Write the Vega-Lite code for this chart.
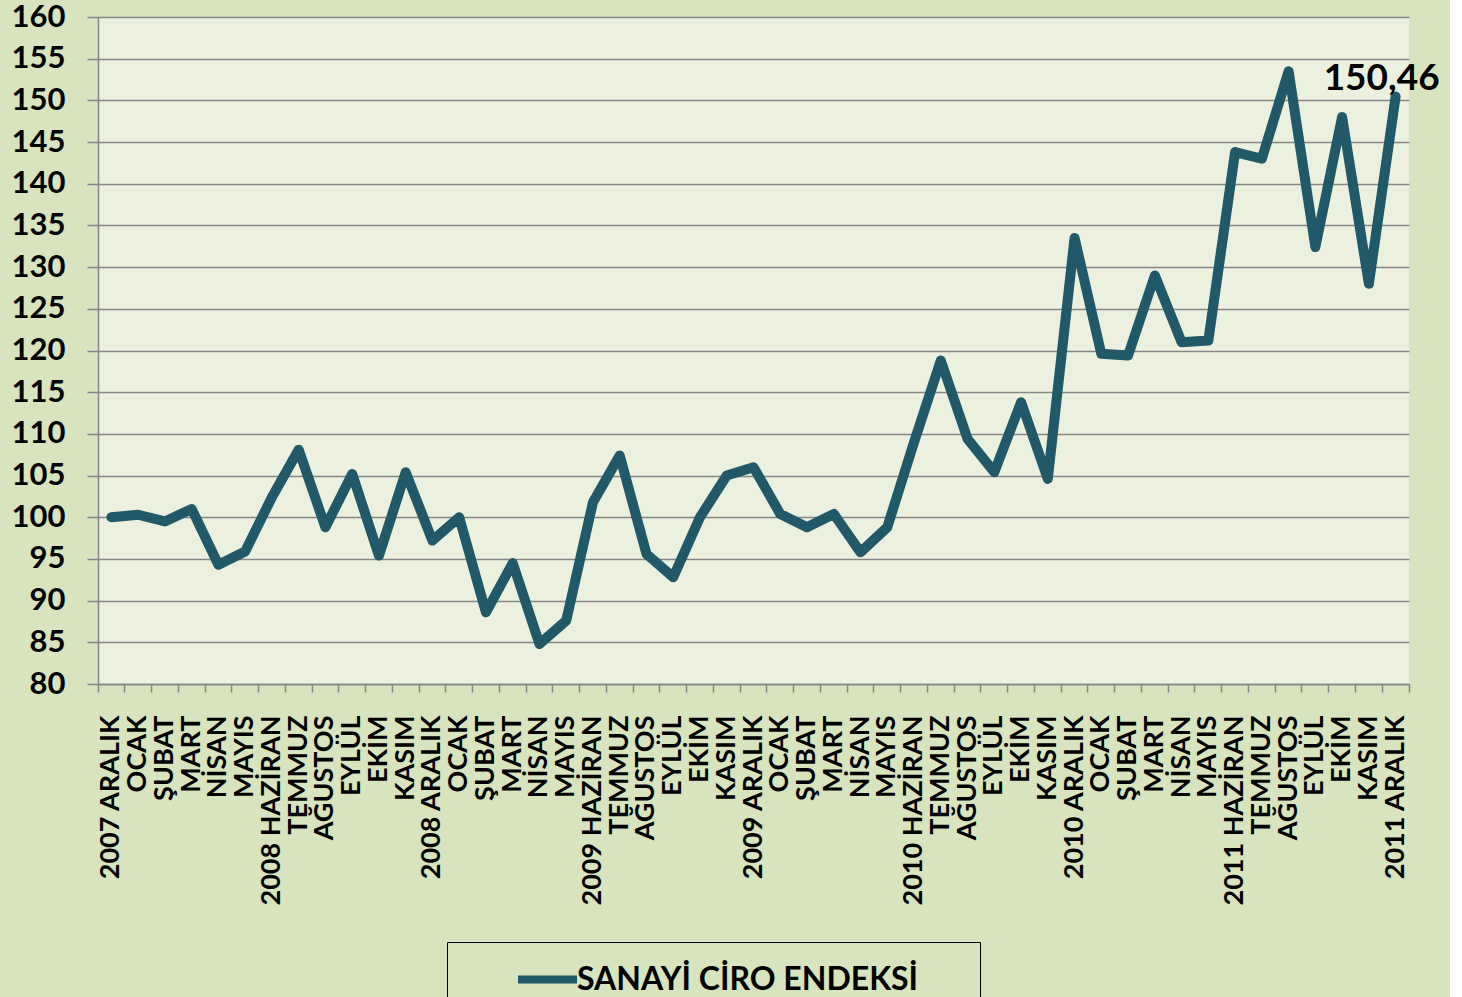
{
  "$schema": "https://vega.github.io/schema/vega-lite/v6.json",
  "autosize": {"type": "none"},
  "padding": {"left": 98, "top": 17, "right": 41, "bottom": 313},
  "width": 1311,
  "height": 667,
  "background": "#D7E4BD",
  "config": {
    "view": {"fill": "#EBF1DE", "stroke": null},
    "font": "Lato"
  },
  "data": {
    "values": [
      {"tarih": "2007-12-01", "endeks": 100.0, "seri": "SANAYİ CİRO ENDEKSİ"},
      {"tarih": "2008-01-01", "endeks": 100.3, "seri": "SANAYİ CİRO ENDEKSİ"},
      {"tarih": "2008-02-01", "endeks": 99.5, "seri": "SANAYİ CİRO ENDEKSİ"},
      {"tarih": "2008-03-01", "endeks": 101.0, "seri": "SANAYİ CİRO ENDEKSİ"},
      {"tarih": "2008-04-01", "endeks": 94.3, "seri": "SANAYİ CİRO ENDEKSİ"},
      {"tarih": "2008-05-01", "endeks": 95.9, "seri": "SANAYİ CİRO ENDEKSİ"},
      {"tarih": "2008-06-01", "endeks": 102.4, "seri": "SANAYİ CİRO ENDEKSİ"},
      {"tarih": "2008-07-01", "endeks": 108.1, "seri": "SANAYİ CİRO ENDEKSİ"},
      {"tarih": "2008-08-01", "endeks": 98.8, "seri": "SANAYİ CİRO ENDEKSİ"},
      {"tarih": "2008-09-01", "endeks": 105.2, "seri": "SANAYİ CİRO ENDEKSİ"},
      {"tarih": "2008-10-01", "endeks": 95.4, "seri": "SANAYİ CİRO ENDEKSİ"},
      {"tarih": "2008-11-01", "endeks": 105.4, "seri": "SANAYİ CİRO ENDEKSİ"},
      {"tarih": "2008-12-01", "endeks": 97.2, "seri": "SANAYİ CİRO ENDEKSİ"},
      {"tarih": "2009-01-01", "endeks": 100.0, "seri": "SANAYİ CİRO ENDEKSİ"},
      {"tarih": "2009-02-01", "endeks": 88.6, "seri": "SANAYİ CİRO ENDEKSİ"},
      {"tarih": "2009-03-01", "endeks": 94.5, "seri": "SANAYİ CİRO ENDEKSİ"},
      {"tarih": "2009-04-01", "endeks": 84.8, "seri": "SANAYİ CİRO ENDEKSİ"},
      {"tarih": "2009-05-01", "endeks": 87.6, "seri": "SANAYİ CİRO ENDEKSİ"},
      {"tarih": "2009-06-01", "endeks": 101.8, "seri": "SANAYİ CİRO ENDEKSİ"},
      {"tarih": "2009-07-01", "endeks": 107.4, "seri": "SANAYİ CİRO ENDEKSİ"},
      {"tarih": "2009-08-01", "endeks": 95.6, "seri": "SANAYİ CİRO ENDEKSİ"},
      {"tarih": "2009-09-01", "endeks": 92.8, "seri": "SANAYİ CİRO ENDEKSİ"},
      {"tarih": "2009-10-01", "endeks": 100.0, "seri": "SANAYİ CİRO ENDEKSİ"},
      {"tarih": "2009-11-01", "endeks": 105.0, "seri": "SANAYİ CİRO ENDEKSİ"},
      {"tarih": "2009-12-01", "endeks": 106.0, "seri": "SANAYİ CİRO ENDEKSİ"},
      {"tarih": "2010-01-01", "endeks": 100.4, "seri": "SANAYİ CİRO ENDEKSİ"},
      {"tarih": "2010-02-01", "endeks": 98.8, "seri": "SANAYİ CİRO ENDEKSİ"},
      {"tarih": "2010-03-01", "endeks": 100.4, "seri": "SANAYİ CİRO ENDEKSİ"},
      {"tarih": "2010-04-01", "endeks": 95.8, "seri": "SANAYİ CİRO ENDEKSİ"},
      {"tarih": "2010-05-01", "endeks": 98.8, "seri": "SANAYİ CİRO ENDEKSİ"},
      {"tarih": "2010-06-01", "endeks": 109.0, "seri": "SANAYİ CİRO ENDEKSİ"},
      {"tarih": "2010-07-01", "endeks": 118.8, "seri": "SANAYİ CİRO ENDEKSİ"},
      {"tarih": "2010-08-01", "endeks": 109.4, "seri": "SANAYİ CİRO ENDEKSİ"},
      {"tarih": "2010-09-01", "endeks": 105.4, "seri": "SANAYİ CİRO ENDEKSİ"},
      {"tarih": "2010-10-01", "endeks": 113.8, "seri": "SANAYİ CİRO ENDEKSİ"},
      {"tarih": "2010-11-01", "endeks": 104.6, "seri": "SANAYİ CİRO ENDEKSİ"},
      {"tarih": "2010-12-01", "endeks": 133.5, "seri": "SANAYİ CİRO ENDEKSİ"},
      {"tarih": "2011-01-01", "endeks": 119.6, "seri": "SANAYİ CİRO ENDEKSİ"},
      {"tarih": "2011-02-01", "endeks": 119.4, "seri": "SANAYİ CİRO ENDEKSİ"},
      {"tarih": "2011-03-01", "endeks": 129.0, "seri": "SANAYİ CİRO ENDEKSİ"},
      {"tarih": "2011-04-01", "endeks": 121.0, "seri": "SANAYİ CİRO ENDEKSİ"},
      {"tarih": "2011-05-01", "endeks": 121.2, "seri": "SANAYİ CİRO ENDEKSİ"},
      {"tarih": "2011-06-01", "endeks": 143.8, "seri": "SANAYİ CİRO ENDEKSİ"},
      {"tarih": "2011-07-01", "endeks": 143.0, "seri": "SANAYİ CİRO ENDEKSİ"},
      {"tarih": "2011-08-01", "endeks": 153.5, "seri": "SANAYİ CİRO ENDEKSİ"},
      {"tarih": "2011-09-01", "endeks": 132.4, "seri": "SANAYİ CİRO ENDEKSİ"},
      {"tarih": "2011-10-01", "endeks": 148.0, "seri": "SANAYİ CİRO ENDEKSİ"},
      {"tarih": "2011-11-01", "endeks": 128.0, "seri": "SANAYİ CİRO ENDEKSİ"},
      {"tarih": "2011-12-01", "endeks": 150.46, "seri": "SANAYİ CİRO ENDEKSİ", "etiket": "150,46"}
    ]
  },
  "encoding": {
    "x": {
      "field": "tarih",
      "timeUnit": "utcyearmonth",
      "type": "ordinal",
      "bandPosition": 0.5,
      "scale": {"type": "band", "paddingInner": 0, "paddingOuter": 0},
      "axis": {
        "title": null,
        "bandPosition": 1,
        "tickExtra": true,
        "labelOffset": 0,
        "labelExpr": "isValid(datum.value) ? (utcmonth(datum.value) == 11 || utcmonth(datum.value) == 5 ? utcyear(datum.value) + ' ' : '') + ['OCAK','ŞUBAT','MART','NİSAN','MAYIS','HAZİRAN','TEMMUZ','AĞUSTOS','EYLÜL','EKİM','KASIM','ARALIK'][utcmonth(datum.value)] : ''",
        "labelAngle": 270,
        "labelAlign": "right",
        "labelBaseline": "middle",
        "labelFont": "Lato",
        "labelFontWeight": "bold",
        "labelFontSize": 27,
        "labelColor": "black",
        "labelPadding": 23,
        "labelOverlap": false,
        "labelBound": false,
        "labelFlush": false,
        "labelLimit": 0,
        "domainColor": "#868686",
        "domainWidth": 1.5,
        "tickColor": "#868686",
        "tickWidth": 1.5,
        "tickSize": 8,
        "grid": false
      }
    },
    "y": {
      "field": "endeks",
      "type": "quantitative",
      "scale": {"domain": [80, 160], "nice": false, "zero": false},
      "axis": {
        "title": null,
        "tickCount": 16,
        "labelFont": "Lato",
        "labelFontWeight": "bold",
        "labelFontSize": 31,
        "labelColor": "black",
        "labelPadding": 22,
        "labelFlush": false,
        "labelOverlap": false,
        "domainColor": "#868686",
        "domainWidth": 1.5,
        "tickColor": "#868686",
        "tickWidth": 1.5,
        "tickSize": 11,
        "grid": true,
        "gridColor": "#868686",
        "gridWidth": 1.5
      }
    }
  },
  "layer": [
    {
      "mark": {"type": "line", "strokeWidth": 10, "strokeCap": "round", "strokeJoin": "round"},
      "encoding": {
        "color": {
          "field": "seri",
          "type": "nominal",
          "scale": {"range": ["#215968"]},
          "legend": {
            "title": " ",
            "titleOrient": "right",
            "titlePadding": 58,
            "orient": "none",
            "legendX": 349,
            "legendY": 925,
            "padding": 4,
            "symbolOffset": 63,
            "strokeColor": "black",
            "fillColor": "#D7E4BD",
            "symbolType": "stroke",
            "symbolSize": 3481,
            "symbolStrokeWidth": 8,
            "symbolStrokeColor": "#215968",
            "labelFont": "Lato",
            "labelFontWeight": "bold",
            "labelFontSize": 32,
            "labelColor": "black",
            "labelOffset": -4,
            "labelLimit": 0
          }
        }
      }
    },
    {
      "transform": [{"filter": "isValid(datum.etiket)"}],
      "mark": {"type": "text", "font": "Lato", "fontWeight": "bold", "fontSize": 37, "color": "black", "align": "center", "baseline": "alphabetic", "dx": -14, "dy": -7},
      "encoding": {"text": {"field": "etiket"}}
    }
  ]
}
